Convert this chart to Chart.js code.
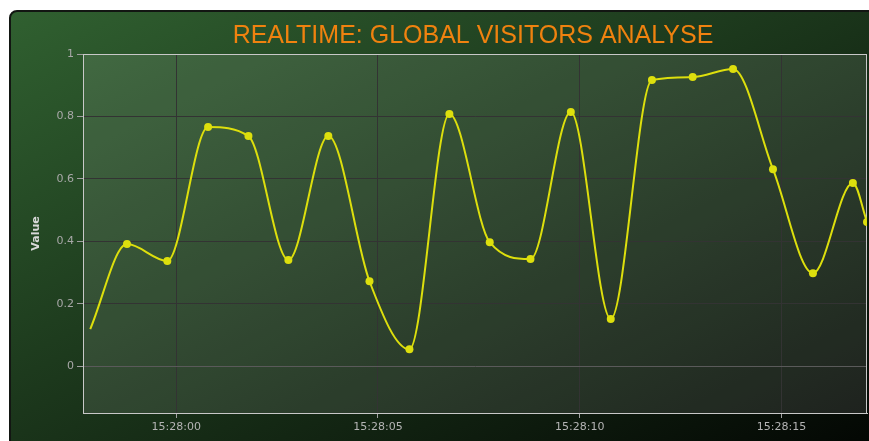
<!DOCTYPE html>
<html lang="en">
<head>
    <meta charset="UTF-8" />
    <title>Realtime: Global Visitors Analyse</title>
    <script src="https://cdn.jsdelivr.net/npm/chart.js"></script>
    <style>
        html, body {
            margin: 0;
            padding: 0;
            background: #fff;
            overflow: hidden;
            width: 869px;
            height: 441px;
        }

        .card {
            position: absolute;
            left: 9px;
            top: 10px;
            width: 924px;
            height: 466px;
            border: 2px solid #121612;
            border-radius: 8px;
            background: linear-gradient(to bottom right, rgb(48, 96, 48), rgb(0, 0, 0));
        }
    </style>
</head>

<body>
    <div class="card">
        <canvas id="visitorsChart"></canvas>
    </div>

    <script>
        // seconds relative to 15:28:00
        const times = [-2.13, -1.22, -0.22, 0.79, 1.79, 2.78, 3.77, 4.79, 5.78, 6.77,
                       7.77, 8.78, 9.78, 10.77, 11.79, 12.80, 13.80, 14.79, 15.78, 16.77, 17.12];
        const values = [0.119, 0.391, 0.337, 0.766, 0.737, 0.340, 0.737, 0.272, 0.054, 0.808,
                        0.397, 0.343, 0.814, 0.151, 0.917, 0.926, 0.952, 0.631, 0.298, 0.587, 0.462];

        const xTickValues = [0, 5, 10, 15];
        const xTickLabels = ['15:28:00', '15:28:05', '15:28:10', '15:28:15'];
        const yTickValues = [0, 0.2, 0.4, 0.6, 0.8, 1];
        const yTickLabels = ['0', '0.2', '0.4', '0.6', '0.8', '1'];

        const seriesColor = '#DDDF0D';

        // plot background + border like the dark green theme
        const plotBox = {
            id: 'plotBox',
            beforeDraw(chart) {
                const { ctx, chartArea: a } = chart;
                ctx.save();
                ctx.fillStyle = 'rgba(255, 255, 255, 0.1)';
                ctx.fillRect(a.left, a.top, a.right - a.left, a.bottom - a.top);
                ctx.restore();
            },
            beforeDatasetsDraw(chart) {
                const { ctx, chartArea: a } = chart;
                ctx.save();
                ctx.strokeStyle = '#C8C8C8';
                ctx.lineWidth = 1;
                ctx.strokeRect(a.left + 0.5, a.top + 0.5, a.right - a.left - 1, a.bottom - a.top);
                ctx.restore();
            }
        };

        const ctx = document.getElementById('visitorsChart').getContext('2d');
        const chart = new Chart(ctx, {
            type: 'line',
            data: {
                datasets: [{
                    label: 'Random data',
                    data: times.map((t, i) => ({ x: t, y: values[i] })),
                    borderColor: seriesColor,
                    backgroundColor: seriesColor,
                    borderWidth: 2,
                    cubicInterpolationMode: 'monotone',
                    pointRadius: times.map((t, i) => i === 0 ? 0 : 4),
                    pointBorderWidth: 0,
                    fill: false
                }]
            },
            options: {
                responsive: true,
                maintainAspectRatio: false,
                animation: false,
                layout: {
                    padding: 0
                },
                plugins: {
                    legend: { display: false },
                    tooltip: { enabled: false },
                    title: {
                        display: true,
                        text: 'REALTIME: GLOBAL VISITORS ANALYSE',
                        color: '#F0820F',
                        font: { family: "'Liberation Sans', Arial, sans-serif", size: 25, weight: 'normal', lineHeight: 1.2 },
                        padding: { top: 9, bottom: 3 }
                    }
                },
                scales: {
                    x: {
                        type: 'linear',
                        min: -2.31,
                        max: 17.12,
                        afterBuildTicks: (scale) => {
                            scale.ticks = xTickValues.map(v => ({ value: v }));
                        },
                        afterFit: (scale) => { scale.height = 65; },
                        ticks: {
                            color: '#B4B4B4',
                            font: { family: "'DejaVu Sans', Verdana, sans-serif", size: 11 },
                            padding: 3,
                            maxRotation: 0,
                            callback: (v) => xTickLabels[xTickValues.indexOf(v)]
                        },
                        grid: {
                            color: '#333333',
                            tickColor: '#A0A0A0',
                            tickLength: 5
                        },
                        border: { color: '#C8C8C8', width: 1 }
                    },
                    y: {
                        min: -0.15,
                        max: 1,
                        afterBuildTicks: (scale) => {
                            scale.ticks = yTickValues.map(v => ({ value: v }));
                        },
                        afterFit: (scale) => { scale.width = 72; },
                        ticks: {
                            color: '#A8A8A8',
                            font: { family: "'DejaVu Sans', Verdana, sans-serif", size: 11 },
                            padding: 3,
                            callback: (v) => yTickLabels[yTickValues.indexOf(v)]
                        },
                        grid: {
                            color: (c) => (c.tick && c.tick.value === 0) ? '#5A5A5A' : '#333333',
                            tickColor: '#A0A0A0',
                            tickLength: 6
                        },
                        border: { color: '#C8C8C8', width: 1 },
                        title: {
                            display: true,
                            text: 'Value',
                            color: '#D8D8D8',
                            font: { family: "'DejaVu Sans', Verdana, sans-serif", size: 11, weight: 'bold', lineHeight: 1.2 },
                            padding: { top: 19, bottom: 0 }
                        }
                    },
                    // empty right margin so the title stays centred on the whole chart
                    yRight: {
                        position: 'right',
                        min: -0.15,
                        max: 1,
                        afterFit: (scale) => { scale.width = 68; },
                        ticks: { display: false },
                        grid: { drawOnChartArea: false, drawTicks: false },
                        border: { display: false }
                    }
                }
            },
            plugins: [plotBox]
        });
    </script>
</body>
</html>
